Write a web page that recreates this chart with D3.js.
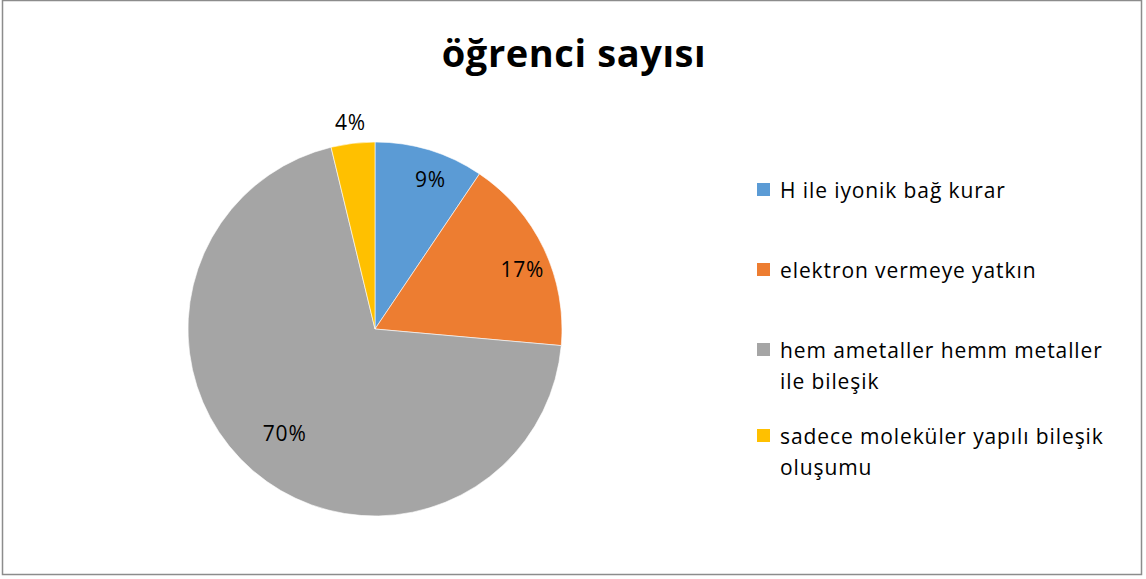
<!DOCTYPE html>
<html>
<head>
<meta charset="utf-8">
<script src="https://cdn.jsdelivr.net/npm/d3@7"></script>
<style>
  html, body { margin: 0; padding: 0; background: #fff; }
  svg { display: block; }
</style>
</head>
<body>
<svg id="chart" width="1146" height="579"></svg>
<script>
// Survey answers: number of students per option
const categories = [
  "H ile iyonik bağ kurar",
  "elektron vermeye yatkın",
  "hem ametaller hemm metaller ile bileşik",
  "sadece moleküler yapılı bileşik oluşumu"
];
const counts = [5, 9, 37, 2];
const colors = ["#5B9BD5", "#ED7D31", "#A5A5A5", "#FFC000"];
// Legend text split into display lines
const legendLines = [
  ["H ile iyonik bağ kurar"],
  ["elektron vermeye yatkın"],
  ["hem ametaller hemm metaller", "ile bileşik"],
  ["sadece moleküler yapılı bileşik", "oluşumu"]
];
const title = "öğrenci sayısı";

const font = "'Open Sans', Lato, sans-serif";
const svg = d3.select("#chart");

// outer frame
svg.append("rect")
  .attr("x", 2.5).attr("y", 0.5)
  .attr("width", 1139).attr("height", 574)
  .attr("fill", "#fff")
  .attr("stroke", "#8c8c8c")
  .attr("stroke-width", 1.5);

svg.append("text")
  .attr("x", 574).attr("y", 67)
  .attr("text-anchor", "middle")
  .attr("font-family", font)
  .attr("font-weight", "bold")
  .attr("font-size", 38)
  .attr("letter-spacing", 0.6)
  .attr("fill", "#000")
  .text(title);

const cx = 375, cy = 329, R = 187;
const total = d3.sum(counts);
const pie = d3.pie().sort(null).value(d => d)(counts);
const arc = d3.arc().innerRadius(0).outerRadius(R);

const g = svg.append("g").attr("transform", `translate(${cx},${cy})`);
g.selectAll("path").data(pie).join("path")
  .attr("d", arc)
  .attr("fill", (d, i) => colors[i])
  .attr("stroke", "#fff")
  .attr("stroke-width", 0.6);

// percentage labels: best-fit style placement
// tiny slices get the label outside, the dominant slice a bit further in
function labelPos(d) {
  const share = d.value / total;
  let r, a = (d.startAngle + d.endAngle) / 2;
  if (share < 0.05) {
    r = R * 1.11;
  } else if (share > 0.5) {
    r = R * 0.74;
  } else {
    r = R * 0.85;
    a += 0.06;
  }
  return [r * Math.sin(a), -r * Math.cos(a)];
}
g.selectAll("text.lbl").data(pie).join("text")
  .attr("class", "lbl")
  .attr("transform", d => `translate(${labelPos(d)})`)
  .attr("text-anchor", "middle")
  .attr("dy", "0.35em")
  .attr("font-family", font)
  .attr("font-size", 21)
  .attr("letter-spacing", 0.8)
  .attr("fill", "#000")
  .text(d => Math.round(d.value / total * 100) + "%");

// legend
const legY = [198, 278, 358, 444];
const leg = svg.append("g");
categories.forEach((c, i) => {
  leg.append("rect")
    .attr("x", 757).attr("y", legY[i] - 15)
    .attr("width", 13).attr("height", 13)
    .attr("fill", colors[i]);
  legendLines[i].forEach((line, j) => {
    leg.append("text")
      .attr("x", 780).attr("y", legY[i] + j * 31)
      .attr("font-family", font)
      .attr("font-size", 21)
      .attr("letter-spacing", 0.9)
      .attr("fill", "#000")
      .text(line);
  });
});
</script>
</body>
</html>
